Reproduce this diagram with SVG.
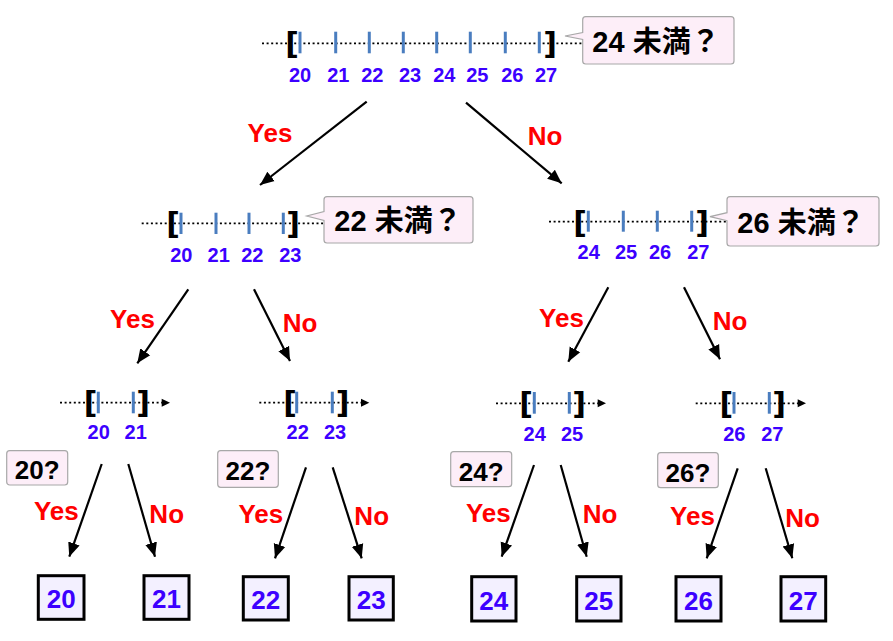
<svg xmlns="http://www.w3.org/2000/svg" width="893" height="641" viewBox="0 0 893 641">
<style>
.dot{stroke:#000;stroke-width:1.8;stroke-dasharray:2 2.6;fill:none}
.tick{stroke:#4a7dbf;stroke-width:3}
.br{font-family:"DejaVu Sans",Verdana,sans-serif;font-weight:bold;font-size:30px;fill:#000;text-anchor:middle}
.num{font-family:"Liberation Sans",Arial,sans-serif;font-weight:bold;font-size:20px;fill:#3c00ff;text-anchor:middle}
.call{fill:#fdeef8;stroke:#a8a8a8;stroke-width:1.2}
.ct{font-family:"Liberation Sans","Noto Sans CJK JP",sans-serif;font-weight:bold;font-size:29px;fill:#000;text-anchor:middle}
.q{font-family:"Liberation Sans",Arial,sans-serif;font-weight:bold;font-size:26px;fill:#000;text-anchor:middle}
.leaf{fill:#f3f0ff;stroke:#000;stroke-width:3}
.lt{font-family:"Liberation Sans",Arial,sans-serif;font-weight:bold;font-size:26px;fill:#3c00ff;text-anchor:middle}
.yn{font-family:"Liberation Sans",Arial,sans-serif;font-weight:bold;font-size:26px;fill:#ff0000;text-anchor:middle}
.con{stroke:#000;stroke-width:2.2;fill:none;marker-end:url(#ah)}
</style>
<defs>
<marker id="ah" markerUnits="userSpaceOnUse" markerWidth="16" markerHeight="14" refX="14" refY="6" orient="auto" viewBox="0 0 16 12">
<path d="M0,0 L14,6 L0,12 z" fill="#000"/>
</marker>
</defs>

<g id="root">
<line class="dot" x1="262" y1="43.3" x2="583" y2="43.3"/>
<g class="tick">
<line x1="300" y1="31.7" x2="300" y2="53.3"/><line x1="335.7" y1="31.7" x2="335.7" y2="53.3"/>
<line x1="369.3" y1="31.7" x2="369.3" y2="53.3"/><line x1="403.3" y1="31.7" x2="403.3" y2="53.3"/>
<line x1="436.7" y1="31.7" x2="436.7" y2="53.3"/><line x1="470.3" y1="31.7" x2="470.3" y2="53.3"/>
<line x1="505.3" y1="31.7" x2="505.3" y2="53.3"/><line x1="539.3" y1="31.7" x2="539.3" y2="53.3"/>
</g>
<text class="br" x="292" y="53.5">[</text><text class="br" x="550" y="53.5">]</text>
<text class="num" y="81.7"><tspan x="300">20</tspan><tspan x="338.3">21</tspan><tspan x="372.3">22</tspan><tspan x="410">23</tspan><tspan x="444.3">24</tspan><tspan x="477.3">25</tspan><tspan x="512.3">26</tspan><tspan x="546">27</tspan></text>
<path class="call" d="M585.7,16.7 H731 Q734,16.7 734,19.7 V61 Q734,64 731,64 H585.7 Q582.7,64 582.7,61 V39.5 L565,36 L582.7,32.5 V19.7 Q582.7,16.7 585.7,16.7 Z"/>
<text class="ct" x="656" y="51.7">24 未満？</text>
</g>

<g id="left2">
<line class="dot" x1="141.7" y1="223.3" x2="323" y2="223.3"/>
<g class="tick">
<line x1="181" y1="212.7" x2="181" y2="234"/><line x1="216" y1="212.7" x2="216" y2="234"/>
<line x1="249" y1="212.7" x2="249" y2="234"/><line x1="283.3" y1="212.7" x2="283.3" y2="234"/>
</g>
<text class="br" x="173" y="233.5">[</text><text class="br" x="293" y="233.5">]</text>
<text class="num" y="261.7"><tspan x="181.3">20</tspan><tspan x="218.7">21</tspan><tspan x="252.3">22</tspan><tspan x="290.3">23</tspan></text>
<path class="call" d="M327,196.7 H470 Q473,196.7 473,199.7 V240 Q473,243 470,243 H327 Q324,243 324,240 V220.5 L306.7,216 L324,211.5 V199.7 Q324,196.7 327,196.7 Z"/>
<text class="ct" x="398" y="230.7">22 未満？</text>
</g>

<g id="right2">
<line class="dot" x1="549" y1="221.7" x2="727" y2="221.7"/>
<g class="tick">
<line x1="588.3" y1="210.7" x2="588.3" y2="231.7"/><line x1="623.3" y1="210.7" x2="623.3" y2="231.7"/>
<line x1="657.3" y1="210.7" x2="657.3" y2="231.7"/><line x1="691.7" y1="210.7" x2="691.7" y2="231.7"/>
</g>
<text class="br" x="580" y="233">[</text><text class="br" x="702" y="233">]</text>
<text class="num" y="259.3"><tspan x="588.7">24</tspan><tspan x="626">25</tspan><tspan x="660">26</tspan><tspan x="698.3">27</tspan></text>
<path class="call" d="M730,196.7 H876 Q879,196.7 879,199.7 V243 Q879,246 876,246 H730 Q727,246 727,243 V220.7 L710,216.7 L727,212.7 V199.7 Q727,196.7 730,196.7 Z"/>
<text class="ct" x="801" y="232.7">26 未満？</text>
</g>

<g id="n2021">
<line class="dot" x1="60" y1="402.7" x2="162" y2="402.7"/>
<path d="M161.7,398.7 L170,402.7 L161.7,406.7 Z" fill="#000"/>
<line class="tick" x1="98.3" y1="391.7" x2="98.3" y2="413.3"/><line class="tick" x1="133.3" y1="391.7" x2="133.3" y2="413.3"/>
<text class="br" x="90.5" y="412.8">[</text><text class="br" x="143" y="412.8">]</text>
<text class="num" y="439.3"><tspan x="98.7">20</tspan><tspan x="135.7">21</tspan></text>
<rect class="call" x="6.7" y="450.7" width="61" height="34.3" rx="3"/>
<text class="q" x="37.2" y="479">20?</text>
</g>

<g id="n2223">
<line class="dot" x1="259.3" y1="402.7" x2="362" y2="402.7"/>
<path d="M361,398.7 L369.3,402.7 L361,406.7 Z" fill="#000"/>
<line class="tick" x1="296.7" y1="391.7" x2="296.7" y2="413.3"/><line class="tick" x1="332.3" y1="391.7" x2="332.3" y2="413.3"/>
<text class="br" x="290" y="412.8">[</text><text class="br" x="342.5" y="412.8">]</text>
<text class="num" y="439.3"><tspan x="297.7">22</tspan><tspan x="335">23</tspan></text>
<rect class="call" x="217.7" y="450.7" width="60.6" height="36.6" rx="3"/>
<text class="q" x="248" y="480">22?</text>
</g>

<g id="n2425">
<line class="dot" x1="496" y1="403.3" x2="598" y2="403.3"/>
<path d="M597.7,399.3 L606,403.3 L597.7,407.3 Z" fill="#000"/>
<line class="tick" x1="534.3" y1="392" x2="534.3" y2="413.7"/><line class="tick" x1="569.3" y1="392" x2="569.3" y2="413.7"/>
<text class="br" x="526" y="413.5">[</text><text class="br" x="579" y="413.5">]</text>
<text class="num" y="440.7"><tspan x="534.7">24</tspan><tspan x="572">25</tspan></text>
<rect class="call" x="450.7" y="451.7" width="61" height="35" rx="3"/>
<text class="q" x="481.2" y="480.5">24?</text>
</g>

<g id="n2627">
<line class="dot" x1="695.7" y1="403.3" x2="798" y2="403.3"/>
<path d="M797.7,399.3 L806,403.3 L797.7,407.3 Z" fill="#000"/>
<line class="tick" x1="734" y1="392" x2="734" y2="413.7"/><line class="tick" x1="769.3" y1="392" x2="769.3" y2="413.7"/>
<text class="br" x="726.3" y="413.5">[</text><text class="br" x="779" y="413.5">]</text>
<text class="num" y="440.7"><tspan x="734.3">26</tspan><tspan x="772.3">27</tspan></text>
<rect class="call" x="657.7" y="452.7" width="60.6" height="35" rx="3"/>
<text class="q" x="688" y="481.5">26?</text>
</g>

<g id="leaf20"><rect class="leaf" x="38.3" y="575.7" width="45.7" height="43.6"/><text class="lt" x="61.2" y="608.3">20</text></g>
<g id="leaf21"><rect class="leaf" x="144" y="575.7" width="45" height="43.6"/><text class="lt" x="166.5" y="608.3">21</text></g>
<g id="leaf22"><rect class="leaf" x="243.3" y="576.7" width="45" height="43.3"/><text class="lt" x="265.8" y="609">22</text></g>
<g id="leaf23"><rect class="leaf" x="349" y="576.7" width="44.3" height="43.3"/><text class="lt" x="371.2" y="609">23</text></g>
<g id="leaf24"><rect class="leaf" x="471.7" y="576.7" width="44.3" height="44.3"/><text class="lt" x="493.8" y="610">24</text></g>
<g id="leaf25"><rect class="leaf" x="576.7" y="576.7" width="44.3" height="44.3"/><text class="lt" x="598.8" y="610">25</text></g>
<g id="leaf26"><rect class="leaf" x="676" y="576.7" width="45" height="44.3"/><text class="lt" x="698.5" y="610">26</text></g>
<g id="leaf27"><rect class="leaf" x="781" y="576.7" width="44.7" height="44.3"/><text class="lt" x="803.3" y="610">27</text></g>

<g id="connectors">
<line class="con" x1="366.7" y1="101.7" x2="260" y2="185"/>
<line class="con" x1="466" y1="102.7" x2="561.7" y2="183.3"/>
<line class="con" x1="188.3" y1="289.3" x2="137.3" y2="363.3"/>
<line class="con" x1="254" y1="289.3" x2="290" y2="361"/>
<line class="con" x1="608.3" y1="287.3" x2="568.3" y2="361.7"/>
<line class="con" x1="684" y1="287.3" x2="720" y2="359.3"/>
<line class="con" x1="101.7" y1="464" x2="69.3" y2="556.7"/>
<line class="con" x1="128.3" y1="464" x2="155" y2="556.7"/>
<line class="con" x1="306" y1="467.3" x2="275" y2="558.3"/>
<line class="con" x1="332.7" y1="467.3" x2="361.7" y2="558.3"/>
<line class="con" x1="534" y1="465" x2="501.7" y2="556.7"/>
<line class="con" x1="560.7" y1="465" x2="586.7" y2="556.7"/>
<line class="con" x1="737.7" y1="468.3" x2="706.7" y2="558.3"/>
<line class="con" x1="765.7" y1="468.3" x2="792.3" y2="558.3"/>
<text class="yn" x="270" y="141.7">Yes</text>
<text class="yn" x="545" y="145">No</text>
<text class="yn" x="132.5" y="328.3">Yes</text>
<text class="yn" x="300" y="331.7">No</text>
<text class="yn" x="561.5" y="326.7">Yes</text>
<text class="yn" x="730" y="330">No</text>
<text class="yn" x="56.3" y="520">Yes</text>
<text class="yn" x="166.7" y="523.3">No</text>
<text class="yn" x="260.8" y="523.3">Yes</text>
<text class="yn" x="371.7" y="525">No</text>
<text class="yn" x="488.3" y="521.7">Yes</text>
<text class="yn" x="600" y="523.3">No</text>
<text class="yn" x="692.5" y="525">Yes</text>
<text class="yn" x="802.5" y="526.7">No</text>
</g>
</svg>
